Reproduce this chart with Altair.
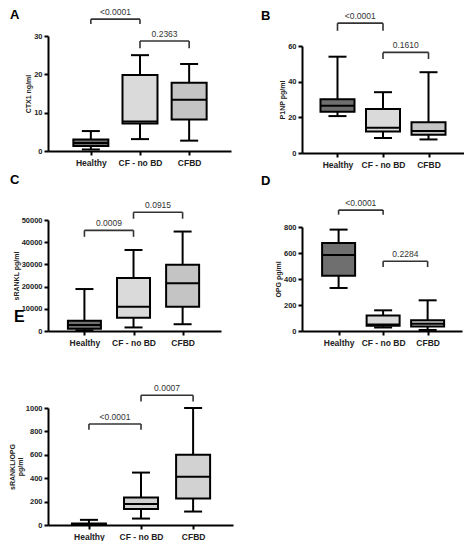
import json
import altair as alt
import pandas as pd

groups = ["Healthy", "CF - no BD", "CFBD"]
fills_main = ["#6f6f6f", "#dadada", "#c4c4c4"]
fills_e = ["#6f6f6f", "#d0d0d0", "#d2d2d2"]

# A: CTX1 ng/ml
a_lo = [0.4, 3.1, 2.7]
a_q1 = [1.3, 7.2, 8.2]
a_med = [2.1, 7.7, 13.4]
a_q3 = [3.0, 19.8, 17.8]
a_hi = [5.2, 25.0, 22.7]
a_br_from = [0, 1]
a_br_to = [1, 2]
a_br_y = [34.4, 28.7]
a_br_tip = [33.1, 26.8]
a_br_text = ["<0.0001", "0.2363"]

# B: P1NP pg/ml
b_lo = [20.7, 8.4, 7.6]
b_q1 = [23.2, 12.0, 10.3]
b_med = [26.5, 14.1, 12.3]
b_q3 = [30.1, 24.7, 17.2]
b_hi = [54.0, 34.1, 45.3]
b_br_from = [0, 1]
b_br_to = [1, 2]
b_br_y = [72.8, 56.4]
b_br_tip = [68.5, 52.7]
b_br_text = ["<0.0001", "0.1610"]

# C: sRANKL pg/ml
c_lo = [300, 1600, 3050]
c_q1 = [1000, 5960, 10900]
c_med = [2750, 10900, 21500]
c_q3 = [4660, 23850, 29800]
c_hi = [18900, 36500, 44800]
c_br_from = [0, 1]
c_br_to = [1, 2]
c_br_y = [45340, 53490]
c_br_tip = [42430, 50570]
c_br_text = ["0.0009", "0.0915"]

# D: OPG pg/ml
d_lo = [331, 27, 8]
d_q1 = [425, 40, 35]
d_med = [584, 50, 55]
d_q3 = [676, 120, 82]
d_hi = [780, 159, 236]
d_br_from = [0, 1]
d_br_to = [1, 2]
d_br_y = [930, 537]
d_br_tip = [895, 492]
d_br_text = ["<0.0001", "0.2284"]

# E: sRANKL/OPG
e_lo = [0, 55, 115]
e_q1 = [4, 137, 227]
e_med = [8, 180, 412]
e_q3 = [12, 235, 601]
e_hi = [44, 448, 1000]
e_br_from = [0, 1]
e_br_to = [1, 2]
e_br_y = [863, 1109]
e_br_tip = [814, 1055]
e_br_text = ["<0.0001", "0.0007"]

label_expr = json.dumps(groups) + "[datum.value]"


def panel(lo, q1, med, q3, hi, fills, ymax, ystep, ytitle,
          br_from, br_to, br_y, br_tip, br_text,
          xdom, w, h, box_w, letters):
    df = pd.DataFrame({"pos": list(range(len(groups))), "group": groups,
                       "lo": lo, "q1": q1, "med": med, "q3": q3, "hi": hi,
                       "fill": fills})
    br = pd.DataFrame({"x1": br_from, "x2": br_to,
                       "mid": [(a + b) / 2 for a, b in zip(br_from, br_to)],
                       "y": br_y, "tip": br_tip, "text": br_text})
    xs = alt.Scale(domain=xdom, nice=False, zero=False)
    ys = alt.Scale(domain=[0, ymax], nice=False)
    xax = alt.Axis(values=[0, 1, 2], labelExpr=label_expr, title=None,
                   grid=False, labelFontSize=8.5, labelPadding=3)
    yax = alt.Axis(values=list(range(0, ymax + 1, ystep)), title=ytitle,
                   format="d", grid=False, labelPadding=2, titlePadding=2,
                   titleLineHeight=8)

    def X(f):
        return alt.X(f, scale=xs, axis=xax)

    def Y(f):
        return alt.Y(f, scale=ys, axis=yax)

    base = alt.Chart(df)
    whisk = base.mark_rule(color="black", strokeWidth=2).encode(
        x=X("pos:Q"), y=Y("lo:Q"), y2="hi:Q")
    box = base.mark_bar(size=box_w, stroke="black", strokeWidth=2).encode(
        x=X("pos:Q"), y=Y("q1:Q"), y2="q3:Q",
        color=alt.Color("fill:N", scale=None))
    median = base.mark_tick(orient="horizontal", size=box_w, thickness=2,
                            color="black", opacity=1).encode(
        x=X("pos:Q"), y=Y("med:Q"))
    cap_lo = base.mark_tick(orient="horizontal", size=18, thickness=2,
                            color="black", opacity=1).encode(
        x=X("pos:Q"), y=Y("lo:Q"))
    cap_hi = base.mark_tick(orient="horizontal", size=18, thickness=2,
                            color="black", opacity=1).encode(
        x=X("pos:Q"), y=Y("hi:Q"))

    bb = alt.Chart(br)
    br_h = bb.mark_rule(color="#333", strokeWidth=1.6).encode(
        x=X("x1:Q"), x2="x2:Q", y=Y("y:Q"))
    br_l = bb.mark_rule(color="#333", strokeWidth=1.6).encode(
        x=X("x1:Q"), y=Y("y:Q"), y2="tip:Q")
    br_r = bb.mark_rule(color="#333", strokeWidth=1.6).encode(
        x=X("x2:Q"), y=Y("y:Q"), y2="tip:Q")
    br_t = bb.mark_text(font="Liberation Sans", fontSize=8.5, color="#333",
                        baseline="alphabetic", dy=-4).encode(
        x=X("mid:Q"), y=Y("y:Q"), text="text:N")

    layers = [whisk, box, median, cap_lo, cap_hi, br_h, br_l, br_r, br_t]
    for txt, lx, ly, fs in letters:
        ldf = pd.DataFrame({"t": [txt]})
        layers.append(alt.Chart(ldf).mark_text(
            font="Liberation Sans", fontWeight="bold", fontSize=fs,
            align="left", baseline="top", color="black").encode(
            x=alt.value(lx), y=alt.value(ly), text="t:N"))
    return alt.layer(*layers).properties(width=w, height=h)


def spacer(h):
    return alt.Chart(pd.DataFrame({"t": [""]})).mark_text().encode(
        text="t:N").properties(width=1, height=h)


pA = panel(a_lo, a_q1, a_med, a_q3, a_hi, fills_main, 30, 10, "CTX1 ng/ml",
           a_br_from, a_br_to, a_br_y, a_br_tip, a_br_text,
           [-0.77, 2.75], 183, 115, 35, [("A", -38, -27, 13)])
pB = panel(b_lo, b_q1, b_med, b_q3, b_hi, fills_main, 60, 20, "P1NP pg/ml",
           b_br_from, b_br_to, b_br_y, b_br_tip, b_br_text,
           [-0.67, 2.67], 162, 107, 34, [("B", -41, -36, 13)])
pC = panel(c_lo, c_q1, c_med, c_q3, c_hi, fills_main, 50000, 10000, "sRANKL pg/ml",
           c_br_from, c_br_to, c_br_y, c_br_tip, c_br_text,
           [-0.64, 2.68], 173, 111, 33, [("C", -38, -46, 13), ("E", -34, 89, 16)])
pD = panel(d_lo, d_q1, d_med, d_q3, d_hi, fills_main, 800, 200, "OPG pg/ml",
           d_br_from, d_br_to, d_br_y, d_br_tip, d_br_text,
           [-0.71, 2.66], 160, 104, 33, [("D", -41, -52, 13)])
pE = panel(e_lo, e_q1, e_med, e_q3, e_hi, fills_e, 1000, 200, ["sRANKL/OPG", "pg/ml"],
           e_br_from, e_br_to, e_br_y, e_br_tip, e_br_text,
           [-0.69, 2.67], 185, 117, 34, [])

left = alt.vconcat(pA, spacer(69), pC, spacer(77), pE, spacing=0, bounds="flush")
right = alt.vconcat(spacer(10), pB, spacer(74), pD, spacing=0, bounds="flush")

chart = alt.hconcat(left, right, spacing=28).properties(padding=0).configure_axis(
    domainColor="black", domainWidth=2, tickColor="black", tickWidth=2,
    tickSize=4, labelFont="Liberation Sans", labelFontWeight="bold",
    labelColor="#222", labelFontSize=7.5, titleFont="Liberation Sans",
    titleFontWeight="bold", titleFontSize=7, titleColor="#222"
).configure_view(stroke=None)

chart.save("out.html", embed_options={"renderer": "svg", "actions": False})
